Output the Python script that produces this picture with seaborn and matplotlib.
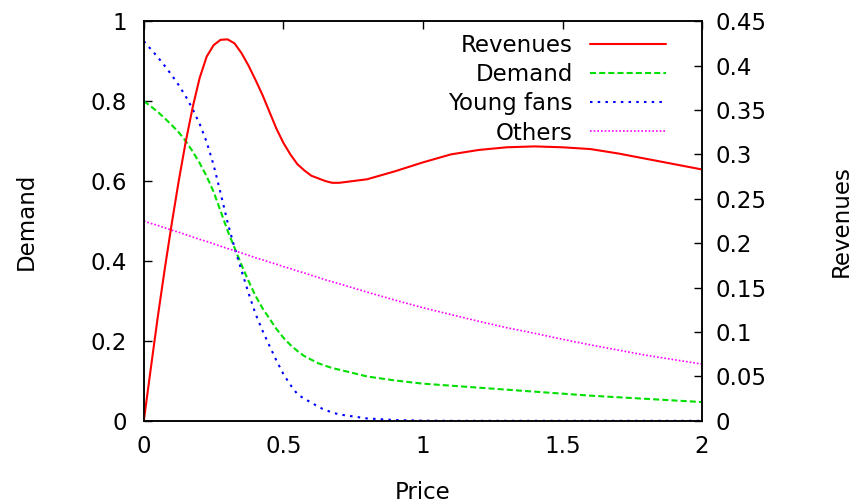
import matplotlib
matplotlib.use("Agg")
import matplotlib.pyplot as plt
import seaborn as sns

# Values
price = [0, 0.025, 0.05, 0.075, 0.1, 0.125, 0.15, 0.175, 0.2, 0.225, 0.25, 0.275,
         0.3, 0.325, 0.35, 0.375, 0.4, 0.425, 0.45, 0.475, 0.5, 0.525, 0.55, 0.575,
         0.6, 0.625, 0.65, 0.675, 0.7, 0.8, 0.9, 1.0, 1.1, 1.2, 1.3, 1.4, 1.5, 1.6,
         1.7, 1.8, 1.9, 2.0]
demand = [0.8, 0.787, 0.773, 0.757, 0.74, 0.722, 0.7, 0.674, 0.645, 0.612, 0.573, 0.525,
          0.476, 0.433, 0.39, 0.35, 0.313, 0.282, 0.256, 0.23, 0.208, 0.19, 0.175, 0.162,
          0.153, 0.144, 0.138, 0.132, 0.128, 0.111, 0.101, 0.093, 0.088, 0.083, 0.078,
          0.073, 0.068, 0.063, 0.059, 0.055, 0.051, 0.047]
young_fans = [0.95, 0.93, 0.91, 0.888, 0.865, 0.84, 0.812, 0.78, 0.743, 0.698, 0.64, 0.57,
              0.497, 0.433, 0.376, 0.32, 0.268, 0.226, 0.188, 0.151, 0.117, 0.09, 0.067,
              0.055, 0.046, 0.035, 0.027, 0.021, 0.016, 0.006, 0.002, 0.0005, 0, 0, 0,
              0, 0, 0, 0, 0, 0, 0]
others = [0.5, 0.494, 0.489, 0.483, 0.477, 0.472, 0.466, 0.46, 0.454, 0.449, 0.443, 0.437,
          0.431, 0.426, 0.42, 0.414, 0.408, 0.403, 0.397, 0.392, 0.386, 0.381, 0.375, 0.37,
          0.364, 0.359, 0.353, 0.348, 0.343, 0.322, 0.302, 0.283, 0.266, 0.249, 0.233,
          0.219, 0.204, 0.19, 0.177, 0.164, 0.153, 0.142]
revenues = [0, 0.059, 0.117, 0.171, 0.222, 0.27, 0.314, 0.353, 0.386, 0.41, 0.423, 0.429,
            0.4295, 0.425, 0.414, 0.4, 0.384, 0.367, 0.348, 0.329, 0.313, 0.3, 0.289, 0.282,
            0.276, 0.273, 0.27, 0.268, 0.268, 0.272, 0.281, 0.291, 0.3, 0.305, 0.308,
            0.309, 0.308, 0.306, 0.301, 0.295, 0.289, 0.283]

sns.set_style("white")
plt.rcParams["font.family"] = ["DejaVu Sans"]
plt.rcParams["font.size"] = 16.5
plt.rcParams["text.color"] = "black"
plt.rcParams["axes.labelcolor"] = "black"
plt.rcParams["xtick.color"] = "black"
plt.rcParams["ytick.color"] = "black"

fig, ax = plt.subplots(figsize=(8.51, 5.04), dpi=100)
fig.subplots_adjust(left=0.169, right=0.825, bottom=0.165, top=0.958)
ax2 = ax.twinx()

sns.lineplot(x=price, y=demand, ax=ax, color="#00e000", linewidth=1.5,
             linestyle=(0, (2.9, 1.5)), label="Demand", legend=False)
sns.lineplot(x=price, y=young_fans, ax=ax, color="#0000ff", linewidth=1.5,
             linestyle=(0, (1.2, 2.5)), label="Young fans", legend=False)
sns.lineplot(x=price, y=others, ax=ax, color="#ff00ff", linewidth=1.2,
             linestyle=(0, (1, 1.2)), label="Others", legend=False)
sns.lineplot(x=price, y=revenues, ax=ax2, color="#ff0000", linewidth=1.5,
             label="Revenues", legend=False)

ax.set_xlim(0, 2)
ax.set_ylim(0, 1)
ax2.set_ylim(0, 0.45)
ax.set_xticks([0, 0.5, 1, 1.5, 2])
ax.set_xticklabels(["0", "0.5", "1", "1.5", "2"])
ax.set_yticks([0, 0.2, 0.4, 0.6, 0.8, 1])
ax.set_yticklabels(["0", "0.2", "0.4", "0.6", "0.8", "1"])
ax2.set_yticks([0, 0.05, 0.1, 0.15, 0.2, 0.25, 0.3, 0.35, 0.4, 0.45])
ax2.set_yticklabels(["0", "0.05", "0.1", "0.15", "0.2", "0.25", "0.3", "0.35", "0.4", "0.45"])

ax.tick_params(axis="x", direction="in", length=6, width=1, top=True, pad=10)
ax.tick_params(axis="y", direction="in", length=6, width=1, right=False, pad=12)
ax2.tick_params(axis="y", direction="in", length=6, width=1, pad=10)

for a in (ax, ax2):
    for s in a.spines.values():
        s.set_linewidth(1.1)
        s.set_color("black")

ax.set_xlabel("Price", labelpad=17)
ax.set_ylabel("Demand", labelpad=38)
ax2.set_ylabel("Revenues", labelpad=45)

handles = ax2.get_lines() + ax.get_lines()
labels = [h.get_label() for h in handles]
ax2.legend(handles, labels, loc="upper right", bbox_to_anchor=(0.935, 0.968),
           frameon=False, markerfirst=False, handlelength=3.3, handletextpad=0.75,
           labelspacing=0.27, borderpad=0, borderaxespad=0)

fig.savefig("out.png", dpi=100)
